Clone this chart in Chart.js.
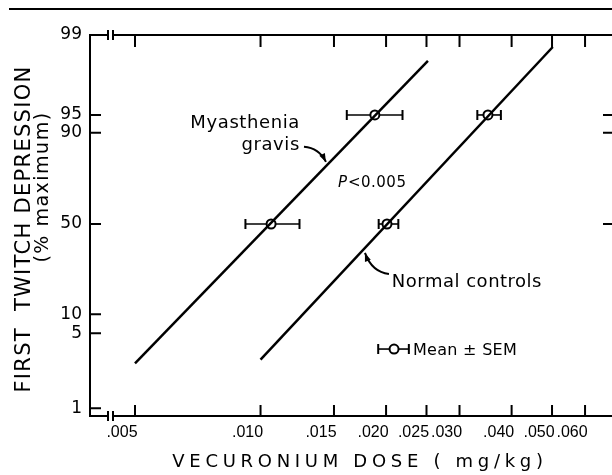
<!DOCTYPE html>
<html>
<head>
<meta charset="utf-8">
<script src="https://cdn.jsdelivr.net/npm/chart.js@4.4.1/dist/chart.umd.min.js"></script>
<style>
  html, body { margin: 0; padding: 0; background: #fff; overflow: hidden; }
  #wrap { width: 612px; height: 475px; overflow: hidden; position: relative; }
  #drawChart { display: block; position: absolute; left: 0; top: 0; }
</style>
</head>
<body>
<div id="wrap"><canvas id="drawChart" width="616" height="475"></canvas></div>
<script>
// dose axis (mg/kg, log)
const xTicks = [0.005, 0.010, 0.015, 0.020, 0.025, 0.030, 0.040, 0.050, 0.060];
const xTickLabels = ['.005', '.010', '.015', '.020', '.025', '.030', '.040', '.050', '.060'];
// response axis (% of maximum) on probability paper
const yTicks = [1, 5, 10, 50, 90, 95, 99];
const yTickLabels = ['1', '5', '10', '50', '90', '95', '99'];
// where each ruled line sits on the paper (probit-like units, 50% = 0)
const yRuling = [-2.275, -1.349, -1.115, 0, 1.127, 1.346, 2.333];

// fitted dose-response lines
const mgLineDose = [0.0050, 0.0252];
const mgLinePct = [3.4, 97.7];
const ncLineDose = [0.0100, 0.0502];
const ncLinePct = [3.6, 98.4];

// mean +- SEM at ED50 and ED95
const meanPct = [50, 95];
const mgDose = [0.0106, 0.0188];
const mgLow = [0.0092, 0.0161];
const mgHigh = [0.0124, 0.0219];
const ncDose = [0.0201, 0.0351];
const ncLow = [0.0192, 0.0331];
const ncHigh = [0.0214, 0.0377];

const rightTicks = [50, 90, 95];

function toPaper(p) {
    let i = 1;
    while (i < yTicks.length - 1 && p > yTicks[i]) i++;
    const p0 = yTicks[i - 1], p1 = yTicks[i];
    return yRuling[i - 1] + (p - p0) / (p1 - p0) * (yRuling[i] - yRuling[i - 1]);
}
const pts = (xs, ps) => xs.map((x, i) => ({x: x, y: toPaper(ps[i])}));

function px(chart, dose, pct) {
    return [chart.scales.x.getPixelForValue(dose), chart.scales.y.getPixelForValue(toPaper(pct))];
}

function errBar(ctx, xa, xb, y) {
    ctx.lineWidth = 1.6;
    ctx.beginPath(); ctx.moveTo(xa, y); ctx.lineTo(xb, y); ctx.stroke();
    ctx.lineWidth = 2;
    ctx.beginPath();
    ctx.moveTo(xa, y - 5); ctx.lineTo(xa, y + 5);
    ctx.moveTo(xb, y - 5); ctx.lineTo(xb, y + 5);
    ctx.stroke();
}

function arrow(ctx, a, c, b) {
    ctx.lineWidth = 2;
    ctx.beginPath(); ctx.moveTo(a[0], a[1]); ctx.quadraticCurveTo(c[0], c[1], b[0], b[1]); ctx.stroke();
    const ang = Math.atan2(b[1] - c[1], b[0] - c[0]);
    ctx.beginPath();
    ctx.moveTo(b[0], b[1]);
    ctx.lineTo(b[0] - 9 * Math.cos(ang - 0.35), b[1] - 9 * Math.sin(ang - 0.35));
    ctx.lineTo(b[0] - 9 * Math.cos(ang + 0.35), b[1] - 9 * Math.sin(ang + 0.35));
    ctx.closePath(); ctx.fill();
}

function text(ctx, str, x, y, font, spacing, align) {
    ctx.font = font;
    ctx.letterSpacing = spacing + 'px';
    ctx.textAlign = align || 'left';
    ctx.textBaseline = 'alphabetic';
    ctx.fillText(str, x, y);
    ctx.letterSpacing = '0px';
}

const paper = {
    id: 'paper',
    beforeDatasetsDraw(chart) {
        const ctx = chart.ctx, a = chart.chartArea;
        const xs = chart.scales.x, ys = chart.scales.y;
        ctx.save();
        ctx.strokeStyle = '#000'; ctx.fillStyle = '#000';
        // rule across the page top
        ctx.fillRect(9, 8, chart.width, 2);
        // frame
        ctx.lineWidth = 2;
        ctx.strokeRect(a.left, a.top, a.right - a.left, a.bottom - a.top);
        ctx.beginPath();
        xTicks.forEach(v => {
            const x = xs.getPixelForValue(v);
            ctx.moveTo(x, a.bottom); ctx.lineTo(x, a.bottom - 11);
            ctx.moveTo(x, a.top); ctx.lineTo(x, a.top + 12);
        });
        yTicks.forEach(p => {
            const y = ys.getPixelForValue(toPaper(p));
            ctx.moveTo(a.left, y); ctx.lineTo(a.left + 11, y);
        });
        rightTicks.forEach(p => {
            const y = ys.getPixelForValue(toPaper(p));
            ctx.moveTo(a.right, y); ctx.lineTo(a.right - 11, y);
        });
        ctx.stroke();
        // axis breaks
        [a.top, a.bottom].forEach(y => {
            ctx.clearRect(a.left + 18, y - 2, 5, 4);
            ctx.beginPath();
            ctx.moveTo(a.left + 18, y - 5); ctx.lineTo(a.left + 18, y + 5);
            ctx.moveTo(a.left + 23, y - 5); ctx.lineTo(a.left + 23, y + 5);
            ctx.stroke();
        });
        // error bars
        [[mgDose, mgLow, mgHigh], [ncDose, ncLow, ncHigh]].forEach(([d, lo, hi]) => {
            d.forEach((v, i) => {
                const y = ys.getPixelForValue(toPaper(meanPct[i]));
                errBar(ctx, xs.getPixelForValue(lo[i]), xs.getPixelForValue(hi[i]), y);
            });
        });
        ctx.restore();
    },
    afterDatasetsDraw(chart) {
        const ctx = chart.ctx;
        ctx.save();
        ctx.strokeStyle = '#000'; ctx.fillStyle = '#000';
        const f18 = '18px "DejaVu Sans"';
        let p = px(chart, 0.01243, 91.2);
        text(ctx, 'Myasthenia', p[0], p[1], f18, 0.6, 'right');
        p = px(chart, 0.01243, 82.4);
        text(ctx, 'gravis', p[0], p[1], f18, 0.6, 'right');
        arrow(ctx, px(chart, 0.01271, 83.8), px(chart, 0.01380, 83.3), px(chart, 0.01435, 77.2));

        p = px(chart, 0.01533, 66.4);
        text(ctx, 'P', p[0], p[1], 'italic 15px "DejaVu Sans"', 0, 'left');
        text(ctx, '<0.005', p[0] + 10, p[1], '15px "DejaVu Sans"', 0.5, 'left');

        p = px(chart, 0.02065, 22.0);
        text(ctx, 'Normal controls', p[0], p[1], f18, 0.5, 'left');
        arrow(ctx, px(chart, 0.02032, 27.9), px(chart, 0.01850, 28.7), px(chart, 0.01780, 37.2));

        // key
        const k0 = px(chart, 0.01915, 4.16), k1 = px(chart, 0.02268, 4.16), kc = px(chart, 0.0209, 4.16);
        errBar(ctx, k0[0], k1[0], k0[1]);
        ctx.lineWidth = 2; ctx.fillStyle = '#fff';
        ctx.beginPath(); ctx.arc(kc[0], kc[1], 4.5, 0, Math.PI * 2); ctx.fill(); ctx.stroke();
        ctx.fillStyle = '#000';
        p = px(chart, 0.02319, 3.84);
        text(ctx, 'Mean \u00b1 SEM', p[0], p[1], '16px "DejaVu Sans"', 0.3, 'left');

        // axis titles
        text(ctx, 'VECURONIUM DOSE ( mg/kg)', 360, 467, '18px "DejaVu Sans"', 4.7, 'center');
        ctx.save();
        ctx.translate(30, 229); ctx.rotate(-Math.PI / 2);
        text(ctx, 'FIRST  TWITCH DEPRESSION', 0, 0, '21px "DejaVu Sans"', 1.3, 'center');
        ctx.restore();
        ctx.save();
        ctx.translate(48, 187); ctx.rotate(-Math.PI / 2);
        text(ctx, '(% maximum)', 0, 0, '19px "DejaVu Sans"', 1.5, 'center');
        ctx.restore();
        ctx.restore();
    }
};

Chart.defaults.font.family = '"DejaVu Sans", sans-serif';
Chart.defaults.color = '#000';

const ctx = document.getElementById('drawChart').getContext('2d');
const myChart = new Chart(ctx, {
    type: 'scatter',
    data: {
        datasets: [
            {data: pts(mgLineDose, mgLinePct), showLine: true, borderColor: '#000', borderWidth: 2.5, pointRadius: 0},
            {data: pts(ncLineDose, ncLinePct), showLine: true, borderColor: '#000', borderWidth: 2.5, pointRadius: 0},
            {data: pts(mgDose, meanPct), pointRadius: 4.5, pointBackgroundColor: '#fff', pointBorderColor: '#000', pointBorderWidth: 2},
            {data: pts(ncDose, meanPct), pointRadius: 4.5, pointBackgroundColor: '#fff', pointBorderColor: '#000', pointBorderWidth: 2}
        ]
    },
    options: {
        responsive: false,
        animation: false,
        events: [],
        layout: {autoPadding: false, padding: {top: 35, right: 2, left: 0, bottom: 0}},
        plugins: {
            legend: {display: false},
            tooltip: {enabled: false}
        },
        scales: {
            x: {
                type: 'logarithmic',
                min: 0.0039,
                max: 0.0704,
                afterBuildTicks: s => { s.ticks = xTicks.map(v => ({value: v})); },
                afterFit: s => { s.height = 59; s.paddingLeft = 0; s.paddingRight = 0; },
                grid: {display: false, drawTicks: false},
                border: {display: false},
                ticks: {
                    callback: (v, i) => xTickLabels[i],
                    font: {family: '"Liberation Sans", Arial, sans-serif', size: 16},
                    padding: 7,
                    labelOffset: -13,
                    maxRotation: 0,
                    autoSkip: false
                }
            },
            y: {
                type: 'linear',
                min: -2.370,
                max: 2.333,
                afterBuildTicks: s => { s.ticks = yTicks.map(p => ({value: toPaper(p)})); },
                afterFit: s => { s.width = 90; s.paddingTop = 0; s.paddingBottom = 0; },
                grid: {display: false, drawTicks: false},
                border: {display: false},
                ticks: {
                    callback: (v, i) => yTickLabels[i],
                    font: {size: 17},
                    padding: 8,
                    autoSkip: false
                }
            }
        }
    },
    plugins: [paper]
});
</script>
</body>
</html>
